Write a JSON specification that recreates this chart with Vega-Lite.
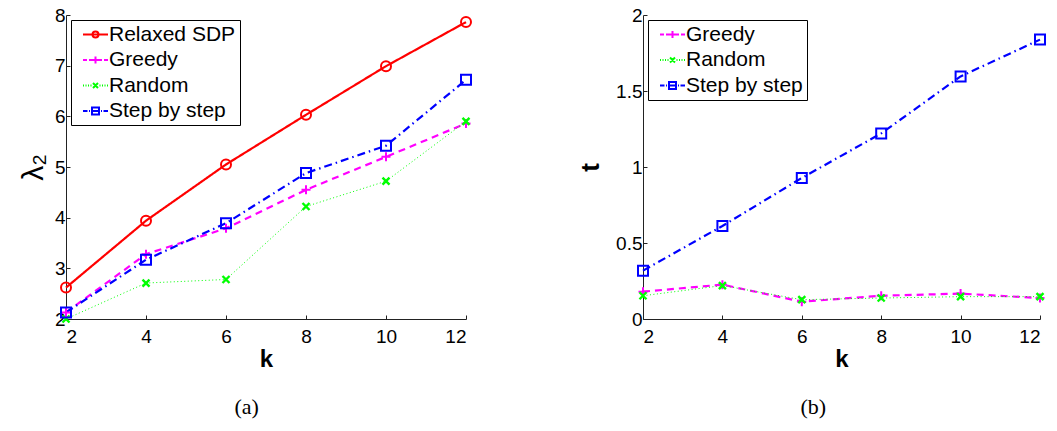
{
  "$schema": "https://vega.github.io/schema/vega-lite/v6.json",
  "background": "white",
  "padding": {"left": 18, "top": 6, "right": 5, "bottom": 5},
  "spacing": 102,
  "resolve": {"scale": {"color": "independent"}, "legend": {"color": "independent"}},
  "datasets": {
    "a": [
      {"k": 2, "series": "Relaxed SDP", "v": 2.62},
      {"k": 4, "series": "Relaxed SDP", "v": 3.94},
      {"k": 6, "series": "Relaxed SDP", "v": 5.05},
      {"k": 8, "series": "Relaxed SDP", "v": 6.03},
      {"k": 10, "series": "Relaxed SDP", "v": 6.99},
      {"k": 12, "series": "Relaxed SDP", "v": 7.86},
      {"k": 2, "series": "Greedy", "v": 2.13},
      {"k": 4, "series": "Greedy", "v": 3.28},
      {"k": 6, "series": "Greedy", "v": 3.79},
      {"k": 8, "series": "Greedy", "v": 4.55},
      {"k": 10, "series": "Greedy", "v": 5.2},
      {"k": 12, "series": "Greedy", "v": 5.86},
      {"k": 2, "series": "Random", "v": 2.0},
      {"k": 4, "series": "Random", "v": 2.71},
      {"k": 6, "series": "Random", "v": 2.78},
      {"k": 8, "series": "Random", "v": 4.22},
      {"k": 10, "series": "Random", "v": 4.72},
      {"k": 12, "series": "Random", "v": 5.9},
      {"k": 2, "series": "Step by step", "v": 2.13},
      {"k": 4, "series": "Step by step", "v": 3.17},
      {"k": 6, "series": "Step by step", "v": 3.89},
      {"k": 8, "series": "Step by step", "v": 4.88},
      {"k": 10, "series": "Step by step", "v": 5.42},
      {"k": 12, "series": "Step by step", "v": 6.72}
    ],
    "b": [
      {"k": 2, "series": "Greedy", "v": 0.18},
      {"k": 4, "series": "Greedy", "v": 0.226},
      {"k": 6, "series": "Greedy", "v": 0.114},
      {"k": 8, "series": "Greedy", "v": 0.153},
      {"k": 10, "series": "Greedy", "v": 0.167},
      {"k": 12, "series": "Greedy", "v": 0.138},
      {"k": 2, "series": "Random", "v": 0.153},
      {"k": 4, "series": "Random", "v": 0.22},
      {"k": 6, "series": "Random", "v": 0.127},
      {"k": 8, "series": "Random", "v": 0.138},
      {"k": 10, "series": "Random", "v": 0.147},
      {"k": 12, "series": "Random", "v": 0.147},
      {"k": 2, "series": "Step by step", "v": 0.318},
      {"k": 4, "series": "Step by step", "v": 0.612},
      {"k": 6, "series": "Step by step", "v": 0.928},
      {"k": 8, "series": "Step by step", "v": 1.221},
      {"k": 10, "series": "Step by step", "v": 1.596},
      {"k": 12, "series": "Step by step", "v": 1.838}
    ]
  },
  "config": {
    "view": {"stroke": null},
    "axis": {
      "grid": false,
      "domainColor": "#222222",
      "domainWidth": 1,
      "tickColor": "#222222",
      "tickSize": -4,
      "tickWidth": 1,
      "labelFont": "Liberation Sans",
      "labelFontSize": 19,
      "labelColor": "black",
      "titleFont": "Liberation Sans",
      "titleColor": "black"
    },
    "axisX": {"labelPadding": 12},
    "axisY": {"labelPadding": 5},
    "legend": {
      "orient": "top-left",
      "offset": 5,
      "padding": 4,
      "strokeColor": "black",
      "fillColor": "white",
      "labelFont": "Liberation Sans",
      "labelFontSize": 21,
      "labelColor": "black",
      "symbolSize": 4,
      "symbolOffset": 10,
      "labelOffset": 3,
      "rowPadding": 3.5,
      "symbolStrokeWidth": 2,
      "symbolFillColor": "transparent"
    },
    "title": {"font": "Liberation Serif", "fontSize": 22, "fontWeight": "normal", "color": "black", "orient": "bottom", "anchor": "middle", "frame": "bounds", "offset": 26}
  },
  "hconcat": [
    {
      "width": 400,
      "height": 304,
      "title": {"text": "(a)"},
      "data": {"name": "a"},
      "encoding": {
        "x": {"field": "k", "type": "quantitative", "scale": {"domain": [2, 12], "nice": false, "zero": false},
              "axis": {"values": [2, 4, 6, 8, 10, 12], "title": "k", "titleFontSize": 24, "titleFontWeight": "bold", "titlePadding": 1}},
        "y": {"field": "v", "type": "quantitative", "scale": {"domain": [2, 8], "nice": false, "zero": false},
              "axis": {"values": [2, 3, 4, 5, 6, 7, 8], "title": "λ₂", "titleFontSize": 30, "titleFontWeight": "normal", "titlePadding": 6}},
        "color": {"field": "series", "type": "nominal",
                  "scale": {"domain": ["Relaxed SDP", "Greedy", "Random", "Step by step"], "range": ["#ff0000", "#ff00ff", "#00ff00", "#0000ff"]},
                  "legend": {
                    "title": null,
                    "symbolType": {"expr": "datum.value === 'Relaxed SDP' ? 'M-12.5,0H12.5M3,0A3,3,0,1,1,-3,0A3,3,0,1,1,3,0' : datum.value === 'Greedy' ? 'M-12.5,0H-8.5M-6.5,0H-2.5M-3.5,0H3.5M0,-3.5V3.5M2.5,0H6.5M8.5,0H12.5' : datum.value === 'Random' ? 'M-12.5,0H-11.5M-10,0H-9M-7.5,0H-6.5M-5,0H-4M4,0H5M6.5,0H7.5M9,0H10M11.5,0H12.5M-2.5,-2.5L2.5,2.5M-2.5,2.5L2.5,-2.5' : 'M-12.5,0H-8M-6.5,0H-5.5M-4,0H4M5.5,0H6.5M8,0H12.5M-3.5,-3.5H3.5V3.5H-3.5Z'"}
                  }}
      },
      "layer": [
        {
          "mark": {"type": "line",
                   "strokeDash": {"expr": "datum.series === 'Greedy' ? [7, 5] : datum.series === 'Random' ? [1, 2.5] : datum.series === 'Step by step' ? [8, 4, 1.5, 4] : [1, 0]"},
                   "strokeWidth": {"expr": "datum.series === 'Random' ? 1 : datum.value === 'Random' ? 1.5 : 2.2"}}
        },
        {
          "mark": {"type": "point", "filled": false, "opacity": 1, "size": 4,
                   "strokeWidth": {"expr": "datum.series === 'Random' ? 2.4 : datum.value === 'Random' ? 1.5 : 2"},
                   "shape": {"expr": "datum.series ? (datum.series === 'Relaxed SDP' ? 'M5,0A5,5,0,1,1,-5,0A5,5,0,1,1,5,0' : datum.series === 'Greedy' ? 'M-4.5,0H4.5M0,-4.5V4.5' : datum.series === 'Random' ? 'M-3.5,-3.5L3.5,3.5M-3.5,3.5L3.5,-3.5' : 'M-5,-5H5V5H-5Z') : (datum.value === 'Relaxed SDP' ? 'M-12.5,0H12.5M3,0A3,3,0,1,1,-3,0A3,3,0,1,1,3,0' : datum.value === 'Greedy' ? 'M-12.5,0H-8.5M-6.5,0H-2.5M-3.5,0H3.5M0,-3.5V3.5M2.5,0H6.5M8.5,0H12.5' : datum.value === 'Random' ? 'M-12.5,0H-11.5M-10,0H-9M-7.5,0H-6.5M-5,0H-4M4,0H5M6.5,0H7.5M9,0H10M11.5,0H12.5M-2.5,-2.5L2.5,2.5M-2.5,2.5L2.5,-2.5' : 'M-12.5,0H-8M-6.5,0H-5.5M-4,0H4M5.5,0H6.5M8,0H12.5M-3.5,-3.5H3.5V3.5H-3.5Z')"}}
        }
      ]
    },
    {
      "width": 397,
      "height": 304,
      "title": {"text": "(b)"},
      "data": {"name": "b"},
      "encoding": {
        "x": {"field": "k", "type": "quantitative", "scale": {"domain": [2, 12], "nice": false, "zero": false},
              "axis": {"values": [2, 4, 6, 8, 10, 12], "title": "k", "titleFontSize": 24, "titleFontWeight": "bold", "titlePadding": 1}},
        "y": {"field": "v", "type": "quantitative", "scale": {"domain": [0, 2], "nice": false},
              "axis": {"values": [0, 0.5, 1, 1.5, 2], "format": "~g", "title": "t", "titleFontSize": 26, "titleFontWeight": "bold", "titlePadding": 12}},
        "color": {"field": "series", "type": "nominal",
                  "scale": {"domain": ["Greedy", "Random", "Step by step"], "range": ["#ff00ff", "#00ff00", "#0000ff"]},
                  "legend": {
                    "title": null,
                    "symbolType": {"expr": "datum.value === 'Greedy' ? 'M-12.5,0H-8.5M-6.5,0H-2.5M-3.5,0H3.5M0,-3.5V3.5M2.5,0H6.5M8.5,0H12.5' : datum.value === 'Random' ? 'M-12.5,0H-11.5M-10,0H-9M-7.5,0H-6.5M-5,0H-4M4,0H5M6.5,0H7.5M9,0H10M11.5,0H12.5M-2.5,-2.5L2.5,2.5M-2.5,2.5L2.5,-2.5' : 'M-12.5,0H-8M-6.5,0H-5.5M-4,0H4M5.5,0H6.5M8,0H12.5M-3.5,-3.5H3.5V3.5H-3.5Z'"}
                  }}
      },
      "layer": [
        {
          "mark": {"type": "line",
                   "strokeDash": {"expr": "datum.series === 'Greedy' ? [7, 5] : datum.series === 'Random' ? [1, 2.5] : datum.series === 'Step by step' ? [8, 4, 1.5, 4] : [1, 0]"},
                   "strokeWidth": {"expr": "datum.series === 'Random' ? 1 : datum.value === 'Random' ? 1.5 : 2.2"}}
        },
        {
          "mark": {"type": "point", "filled": false, "opacity": 1, "size": 4,
                   "strokeWidth": {"expr": "datum.series === 'Random' ? 2.4 : datum.value === 'Random' ? 1.5 : 2"},
                   "shape": {"expr": "datum.series ? (datum.series === 'Greedy' ? 'M-4.5,0H4.5M0,-4.5V4.5' : datum.series === 'Random' ? 'M-3.5,-3.5L3.5,3.5M-3.5,3.5L3.5,-3.5' : 'M-5,-5H5V5H-5Z') : (datum.value === 'Greedy' ? 'M-12.5,0H-8.5M-6.5,0H-2.5M-3.5,0H3.5M0,-3.5V3.5M2.5,0H6.5M8.5,0H12.5' : datum.value === 'Random' ? 'M-12.5,0H-11.5M-10,0H-9M-7.5,0H-6.5M-5,0H-4M4,0H5M6.5,0H7.5M9,0H10M11.5,0H12.5M-2.5,-2.5L2.5,2.5M-2.5,2.5L2.5,-2.5' : 'M-12.5,0H-8M-6.5,0H-5.5M-4,0H4M5.5,0H6.5M8,0H12.5M-3.5,-3.5H3.5V3.5H-3.5Z')"}}
        }
      ]
    }
  ]
}
